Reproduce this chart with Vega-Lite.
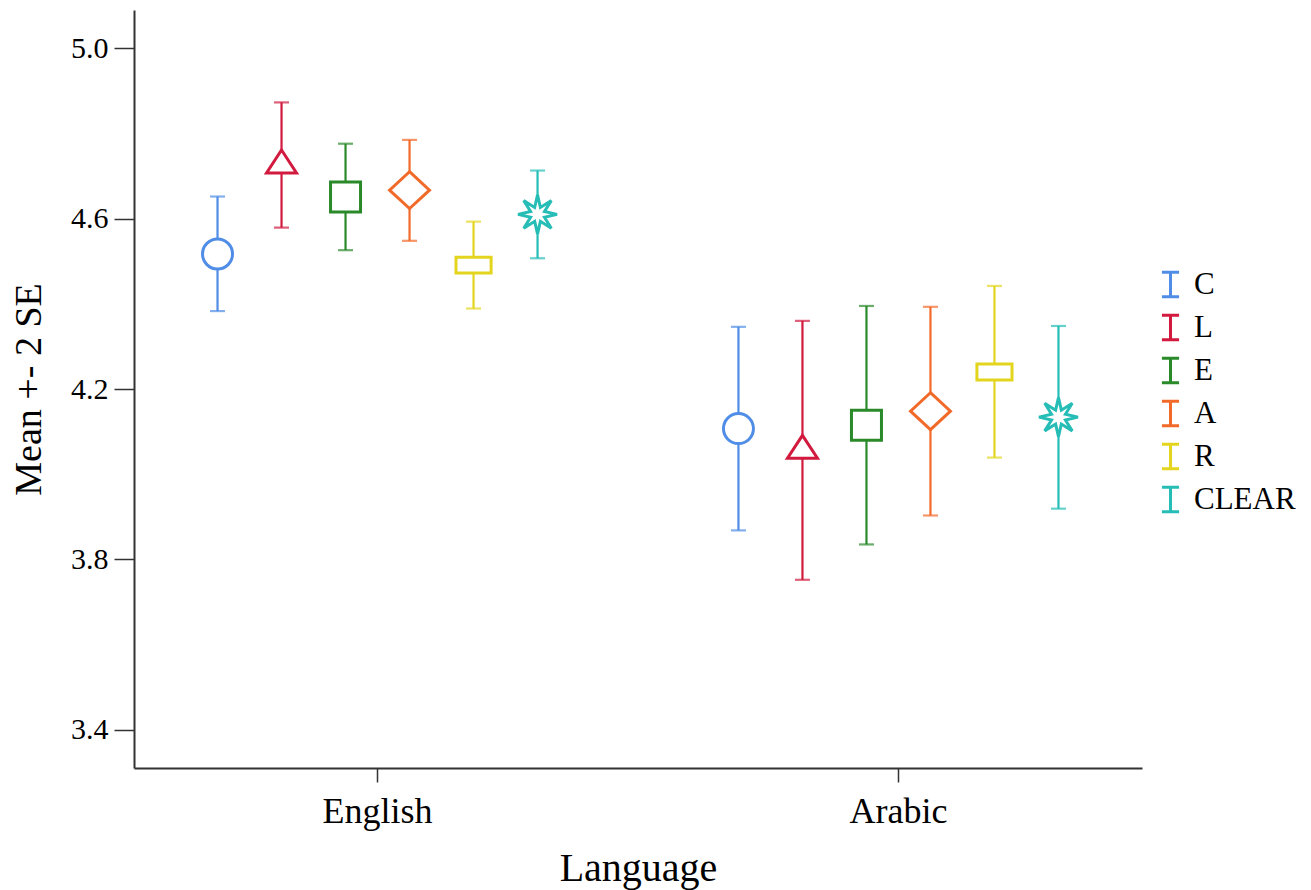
{
  "$schema": "https://vega.github.io/schema/vega-lite/v6.json",
  "width": 1008,
  "height": 758,
  "autosize": {"type": "none"},
  "padding": {"left": 134, "top": 10, "right": 169, "bottom": 122},
  "background": "white",
  "config": {
    "view": {"stroke": null},
    "font": "Liberation Serif",
    "axis": {
      "grid": false,
      "domainColor": "#333333",
      "domainWidth": 2,
      "tickColor": "#333333",
      "tickWidth": 1.5,
      "labelColor": "#000000",
      "titleColor": "#000000",
      "labelFont": "Liberation Serif",
      "titleFont": "Liberation Serif",
      "titleFontWeight": "normal"
    },
    "point": {"filled": false, "fill": "white", "strokeWidth": 3, "size": 900, "opacity": 1}
  },
  "data": {
    "values": [
      {"language": "English", "measure": "C", "mean": 4.517, "lo": 4.383, "hi": 4.652},
      {"language": "English", "measure": "L", "mean": 4.726, "lo": 4.579, "hi": 4.873},
      {"language": "English", "measure": "E", "mean": 4.651, "lo": 4.526, "hi": 4.776},
      {"language": "English", "measure": "A", "mean": 4.667, "lo": 4.548, "hi": 4.785},
      {"language": "English", "measure": "R", "mean": 4.491, "lo": 4.389, "hi": 4.593},
      {"language": "English", "measure": "CLEAR", "mean": 4.610, "lo": 4.507, "hi": 4.713},
      {"language": "Arabic", "measure": "C", "mean": 4.107, "lo": 3.868, "hi": 4.346},
      {"language": "Arabic", "measure": "L", "mean": 4.056, "lo": 3.752, "hi": 4.360},
      {"language": "Arabic", "measure": "E", "mean": 4.115, "lo": 3.835, "hi": 4.395},
      {"language": "Arabic", "measure": "A", "mean": 4.148, "lo": 3.903, "hi": 4.393},
      {"language": "Arabic", "measure": "R", "mean": 4.240, "lo": 4.039, "hi": 4.442},
      {"language": "Arabic", "measure": "CLEAR", "mean": 4.134, "lo": 3.919, "hi": 4.348}
    ]
  },
  "encoding": {
    "x": {
      "field": "language",
      "type": "nominal",
      "sort": ["English", "Arabic"],
      "scale": {"paddingInner": 0.065, "paddingOuter": 0},
      "title": "Language",
      "axis": {
        "labelAngle": 0,
        "labelFontSize": 36,
        "titleFontSize": 40,
        "tickSize": 14,
        "labelPadding": 12,
        "titlePadding": 19
      }
    },
    "xOffset": {
      "field": "measure",
      "type": "nominal",
      "sort": ["C", "L", "E", "A", "R", "CLEAR"],
      "scale": {"domain": ["C", "L", "E", "A", "R", "CLEAR"], "paddingOuter": 0.805, "paddingInner": 0}
    },
    "color": {
      "field": "measure",
      "type": "nominal",
      "sort": ["C", "L", "E", "A", "R", "CLEAR"],
      "scale": {
        "domain": ["C", "L", "E", "A", "R", "CLEAR"],
        "range": ["#4F8DE6", "#D21A3E", "#2A8A2A", "#F26A2A", "#E3D51E", "#25BDB6"]
      },
      "legend": {
        "orient": "none",
        "legendX": 1021,
        "legendY": 259,
        "title": null,
        "symbolType": "M-0.7,-1H0.7M0,-1V1M-0.7,1H0.7",
        "symbolSize": 600,
        "symbolStrokeWidth": 2.5,
        "symbolFillColor": "transparent",
        "symbolOpacity": 1,
        "labelFontSize": 31,
        "labelFont": "Liberation Serif",
        "labelColor": "#000000",
        "labelOffset": 8,
        "rowPadding": 6,
        "labelLimit": 300
      }
    }
  },
  "layer": [
    {
      "mark": {"type": "rule", "strokeWidth": 2.2},
      "encoding": {
        "y": {
          "field": "lo",
          "type": "quantitative",
          "scale": {"domain": [3.31, 5.09], "nice": false, "zero": false},
          "title": "Mean +- 2 SE",
          "axis": {
            "values": [3.4, 3.8, 4.2, 4.6, 5.0],
            "format": ".1f",
            "tickSize": 20,
            "labelPadding": 6,
            "labelFontSize": 30,
            "titleFontSize": 38,
            "titlePadding": 22
          }
        },
        "y2": {"field": "hi"}
      }
    },
    {
      "mark": {"type": "tick", "size": 15, "thickness": 2.2},
      "encoding": {"y": {"field": "lo", "type": "quantitative"}}
    },
    {
      "mark": {"type": "tick", "size": 15, "thickness": 2.2},
      "encoding": {"y": {"field": "hi", "type": "quantitative"}}
    },
    {
      "transform": [{"filter": "datum.measure === 'C'"}],
      "mark": {"type": "point", "shape": "circle"},
      "encoding": {"y": {"field": "mean", "type": "quantitative"}}
    },
    {
      "transform": [{"filter": "datum.measure === 'L'"}],
      "mark": {"type": "point", "shape": "M0,-1L1,0.53L-1,0.53Z"},
      "encoding": {"y": {"field": "mean", "type": "quantitative"}}
    },
    {
      "transform": [{"filter": "datum.measure === 'E'"}],
      "mark": {"type": "point", "shape": "square"},
      "encoding": {"y": {"field": "mean", "type": "quantitative"}}
    },
    {
      "transform": [{"filter": "datum.measure === 'A'"}],
      "mark": {"type": "point", "shape": "M0,-1.23L1.33,0L0,1.23L-1.33,0Z"},
      "encoding": {"y": {"field": "mean", "type": "quantitative"}}
    },
    {
      "transform": [{"filter": "datum.measure === 'R'"}],
      "mark": {"type": "point", "shape": "M-1.17,-0.53H1.17V0.53H-1.17Z"},
      "encoding": {"y": {"field": "mean", "type": "quantitative"}}
    },
    {
      "transform": [{"filter": "datum.measure === 'CLEAR'"}],
      "mark": {"type": "point", "shape": "M1.3,0L0.462,0.191L0.919,0.919L0.191,0.462L0,1.3L-0.191,0.462L-0.919,0.919L-0.462,0.191L-1.3,0L-0.462,-0.191L-0.919,-0.919L-0.191,-0.462L0,-1.3L0.191,-0.462L0.919,-0.919L0.462,-0.191Z"},
      "encoding": {"y": {"field": "mean", "type": "quantitative"}}
    }
  ]
}
